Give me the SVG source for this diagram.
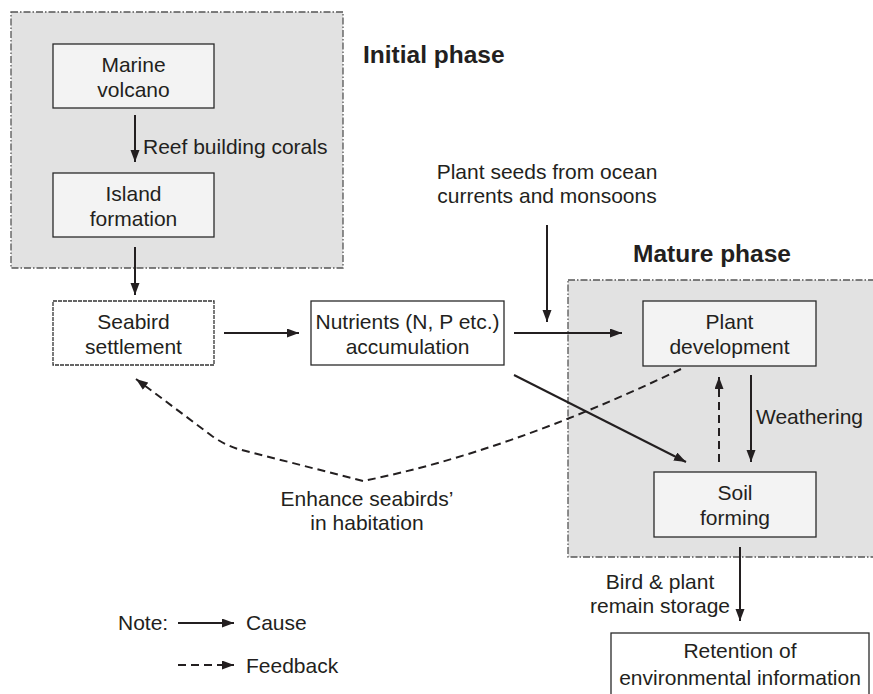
<svg xmlns="http://www.w3.org/2000/svg" width="873" height="694" viewBox="0 0 873 694">
<style>
text{font-family:"Liberation Sans",Arial,Helvetica,sans-serif;font-size:21px;fill:#231f20}
.c{text-anchor:middle}
.t{font-weight:bold;font-size:24.5px}
.panel{fill:#e2e2e2;stroke:#555;stroke-width:1.3;stroke-dasharray:7 2 1.5 2}
.inner{fill:#f3f3f3;stroke:#2a2a2a;stroke-width:1.3}
.plain{fill:#fff;stroke:#2a2a2a;stroke-width:1.3}
.dot{fill:#fff;stroke:#333;stroke-width:1.3;stroke-dasharray:4 1}
.a{fill:none;stroke:#231f20;stroke-width:2;marker-end:url(#ah)}
.d{fill:none;stroke:#231f20;stroke-width:2;stroke-dasharray:8 5;marker-end:url(#ah)}
</style>
<defs>
<marker id="ah" markerUnits="userSpaceOnUse" markerWidth="13" markerHeight="10" refX="12" refY="4.5" orient="auto">
<path d="M0,0 L12,4.5 L0,9 z" fill="#231f20" stroke="none"/>
</marker>
</defs>
<g id="initial-phase">
<rect class="panel" x="11" y="12" width="332" height="256"/>
<text class="t" x="363" y="63">Initial phase</text>
</g>
<g id="mature-phase">
<rect class="panel" x="568" y="280" width="310" height="277"/>
<text class="t" x="633" y="262">Mature phase</text>
</g>
<g id="marine-volcano">
<rect class="inner" x="53" y="44" width="161" height="64"/>
<text class="c" x="133.5" y="72">Marine</text>
<text class="c" x="133.5" y="97">volcano</text>
</g>
<g id="island-formation">
<rect class="inner" x="53" y="173" width="161" height="64"/>
<text class="c" x="133.5" y="201">Island</text>
<text class="c" x="133.5" y="226">formation</text>
</g>
<g id="seabird-settlement">
<rect class="dot" x="53" y="301" width="161" height="64"/>
<text class="c" x="133.5" y="329">Seabird</text>
<text class="c" x="133.5" y="354">settlement</text>
</g>
<g id="nutrients">
<rect class="plain" x="311" y="301" width="193" height="64"/>
<text class="c" x="407.5" y="329">Nutrients (N, P etc.)</text>
<text class="c" x="407.5" y="354">accumulation</text>
</g>
<g id="plant-development">
<rect class="inner" x="643" y="301" width="173" height="65"/>
<text class="c" x="729.5" y="329">Plant</text>
<text class="c" x="729.5" y="354">development</text>
</g>
<g id="soil-forming">
<rect class="inner" x="654" y="472" width="162" height="65"/>
<text class="c" x="735" y="500">Soil</text>
<text class="c" x="735" y="525">forming</text>
</g>
<g id="retention">
<rect class="plain" x="611" y="633" width="258" height="70"/>
<text class="c" x="740" y="658">Retention of</text>
<text class="c" x="740" y="685">environmental information</text>
</g>
<g id="seeds-source">
<text class="c" x="547" y="179">Plant seeds from ocean</text>
<text class="c" x="547" y="203">currents and monsoons</text>
</g>
<g id="connectors">
<path class="a" d="M135,115 L135,162"/>
<text x="143" y="154">Reef building corals</text>
<path class="a" d="M135,247 L135,295"/>
<path class="a" d="M224,333 L299,333"/>
<path class="a" d="M514,333 L622,333"/>
<path class="a" d="M547,225 L547,322"/>
<path class="a" d="M514,375 L686,462"/>
<path class="a" d="M751,375 L751,462"/>
<text x="756" y="424">Weathering</text>
<path class="d" d="M719,462 L719,377"/>
<path class="d" d="M681,369 Q508,452 363,481 L238,449 Q225,445 212,436 L136,379"/>
<text class="c" x="367" y="506">Enhance seabirds’</text>
<text class="c" x="367" y="530">in habitation</text>
<path class="a" d="M740,547 L740,621"/>
<text class="c" x="660" y="589">Bird &amp; plant</text>
<text class="c" x="660" y="613">remain storage</text>
</g>
<g id="legend">
<text x="118" y="630">Note:</text>
<path class="a" d="M178,623 L234,623"/>
<text x="246" y="630">Cause</text>
<path class="d" d="M178,665 L234,665"/>
<text x="246" y="673">Feedback</text>
</g>
</svg>
